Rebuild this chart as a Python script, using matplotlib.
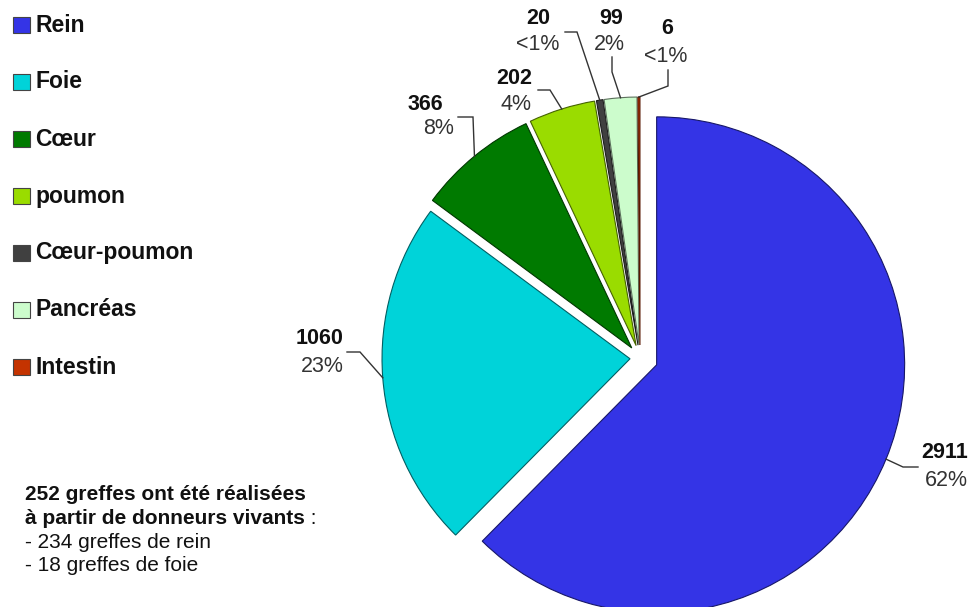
import numpy as np
import matplotlib
matplotlib.use("Agg")
import matplotlib.pyplot as plt
from matplotlib.patches import Rectangle

# --- data ---
organs = ["Rein", "Foie", "Cœur", "poumon", "Cœur-poumon", "Pancréas", "Intestin"]
greffes = [2911, 1060, 366, 202, 20, 99, 6]
colors = ["#3434E6", "#00D3D9", "#007A00", "#9ADC00", "#404040", "#CCFCCC", "#C43300"]
note_lines = ["252 greffes ont été réalisées",
              "à partir de donneurs vivants",
              "- 234 greffes de rein",
              "- 18 greffes de foie"]

# --- layout (pixels, y from top) ---
W, H = 972, 607
CX, CY, R = 640, 358, 248
explode = [18, 10, 13, 13, 13, 13, 13]
# value label centre, percent label centre, leader elbow, leader end
lab_val = [(945, 453), (320, 338), (425, 105), (514, 78), (538, 18), (611, 18), (667, 28)]
lab_pct = [(946, 481), (322, 366), (439, 129), (516, 104), (538, 45), (609, 44), (666, 57)]
lead_elbow = [(903, 467), (360, 352), (473, 117), (550, 90), (577, 32), (612, 72), (668, 86)]
lead_end = [(918, 467), (347, 352), (458, 117), (538, 90), (565, 32), (612, 57), (668, 70)]

FONT = ["Liberation Sans", "DejaVu Sans"]
plt.rcParams["font.family"] = FONT

fig = plt.figure(figsize=(W / 100, H / 100), dpi=100)
ax = fig.add_axes([0, 0, 1, 1])


def py(y):
    return H - y


def darker(c, f=0.45):
    rgb = np.array(matplotlib.colors.to_rgb(c))
    return tuple(rgb * f)


wedges, _ = ax.pie(greffes, colors=colors, startangle=90, counterclock=False,
                   center=(CX, py(CY)), radius=R, explode=explode,
                   wedgeprops=dict(linewidth=0.8), frame=True)
for w, c in zip(wedges, colors):
    w.set_edgecolor(darker(c))

total = sum(greffes)
for i, w in enumerate(wedges):
    pct = greffes[i] / total * 100
    pct_txt = "<1%" if pct < 1 else f"{pct:.0f}%"
    vx, vy = lab_val[i]
    pxx, pyy = lab_pct[i]
    ax.text(vx, py(vy), str(greffes[i]), ha="center", va="center",
            fontsize=15.5, fontweight="bold", color="#111111")
    ax.text(pxx, py(pyy), pct_txt, ha="center", va="center",
            fontsize=15.5, color="#333333")
    # leader from the middle of the arc
    mid = np.deg2rad((w.theta1 + w.theta2) / 2)
    ax0 = w.center[0] + w.r * np.cos(mid)
    ay0 = w.center[1] + w.r * np.sin(mid)
    ex, ey = lead_elbow[i]
    tx, ty = lead_end[i]
    ax.plot([ax0, ex, tx], [ay0, py(ey), py(ty)], color="#333333", lw=1.0,
            solid_joinstyle="miter")

# legend
for i, (name, c) in enumerate(zip(organs, colors)):
    yc = 25 + i * 57
    ax.add_patch(Rectangle((13, py(yc) - 8), 17, 16, facecolor=c,
                           edgecolor="#444444", lw=0.8))
    ax.text(35, py(yc), name, ha="left", va="center", fontsize=16.5,
            fontweight="bold", color="#111111")

ax.set_xlim(0, W)
ax.set_ylim(0, H)
ax.set_aspect("equal")
ax.axis("off")

# note on living donors
renderer = fig.canvas.get_renderer()
for i, line in enumerate(note_lines):
    t = ax.text(25, py(495 + i * 23.5), line, ha="left", va="center", fontsize=15,
                fontweight="bold" if i < 2 else "normal", color="#111111")
    if i == 1:
        # the colon after "vivants" is in regular weight
        bb = t.get_window_extent(renderer=renderer)
        ax.text(bb.x1, py(495 + i * 23.5), " :", ha="left", va="center",
                fontsize=15, color="#111111")

fig.savefig("out.png", dpi=100)
